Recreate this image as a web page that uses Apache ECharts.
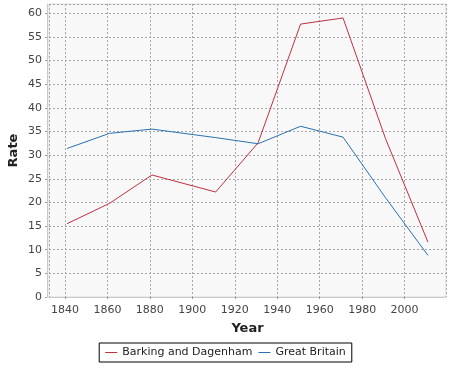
<!DOCTYPE html>
<html>
<head>
<meta charset="utf-8">
<script src="https://cdn.jsdelivr.net/npm/echarts@6/dist/echarts.min.js"></script>
<style>html,body{margin:0;padding:0;background:#fff;}#c{width:451px;height:368px;}</style>
</head>
<body>
<div id="c"></div>
<script>
var years = [1841, 1861, 1881, 1911, 1931, 1951, 1971, 1991, 2011];
var barking = [15.5, 19.8, 25.8, 22.2, 32.6, 57.7, 59.0, 33.5, 11.6];
var britain = [31.4, 34.6, 35.5, 33.7, 32.4, 36.1, 33.8, 21.0, 8.8];
var seriesNames = ['Barking and Dagenham', 'Great Britain'];

function pairs(xs, ys) { return xs.map(function (x, i) { return [x, ys[i]]; }); }

var font = 'DejaVu Sans';
var chart = echarts.init(document.getElementById('c'), null, { renderer: 'canvas' });
chart.setOption({
  animation: false,
  textStyle: { fontFamily: font },
  grid: {
    left: 49, right: 5, top: 4, bottom: 71,
    outerBoundsMode: 'none', containLabel: false,
    show: true, backgroundColor: '#f8f8f8', borderColor: '#dcdcdc', borderWidth: 1
  },
  legend: {
    data: seriesNames.map(function (n) { return { name: n, icon: 'rect' }; }),
    top: 343, left: 'center',
    itemWidth: 12, itemHeight: 1, itemGap: 6, itemTextGap: 6,
    borderColor: '#000', borderWidth: 1, padding: [4, 6, 4, 6],
    textStyle: { fontFamily: font, fontSize: 11, color: '#222' }
  },
  xAxis: {
    type: 'value', min: 1832.5, max: 2019.5, splitNumber: 9,
    offset: 3,
    name: 'Year', nameLocation: 'middle', nameGap: 22,
    nameTextStyle: { fontFamily: font, fontSize: 13, fontWeight: 'bold', color: '#222' },
    axisLine: { show: true, lineStyle: { color: '#c8c8c8', width: 1 } },
    axisTick: { show: true, length: 2, lineStyle: { color: '#999' } },
    axisLabel: {
      fontFamily: font, fontSize: 11, color: '#444', margin: 5,
      showMinLabel: false, showMaxLabel: false,
      formatter: function (v) { return (Math.abs(v % 20) < 1e-6) ? String(v) : ''; }
    },
    splitLine: { show: true, lineStyle: { color: '#a8a8a8', type: [2, 2], width: 1 } }
  },
  yAxis: {
    type: 'value', min: 0, max: 61.95, interval: 5,
    offset: 2,
    name: 'Rate', nameLocation: 'middle', nameGap: 27, nameMoveOverlap: false,
    nameTextStyle: { fontFamily: font, fontSize: 13, fontWeight: 'bold', color: '#222' },
    axisLine: { show: true, lineStyle: { color: '#c8c8c8', width: 1 } },
    axisTick: { show: true, length: 2, lineStyle: { color: '#999' } },
    axisLabel: {
      fontFamily: font, fontSize: 11, color: '#444', margin: 5,
      showMaxLabel: false,
      formatter: function (v) { return (Math.abs(v % 5) < 1e-6) ? String(v) : ''; }
    },
    splitLine: { show: true, lineStyle: { color: '#a8a8a8', type: [2, 2], width: 1 } }
  },
  series: [
    {
      name: seriesNames[0], type: 'line', data: pairs(years, barking),
      showSymbol: false, symbol: 'none',
      lineStyle: { color: '#c0303f', width: 1 }, itemStyle: { color: '#c0303f' }
    },
    {
      name: seriesNames[1], type: 'line', data: pairs(years, britain),
      showSymbol: false, symbol: 'none',
      lineStyle: { color: '#2a72b0', width: 1 }, itemStyle: { color: '#2a72b0' }
    }
  ]
});
</script>
</body>
</html>
